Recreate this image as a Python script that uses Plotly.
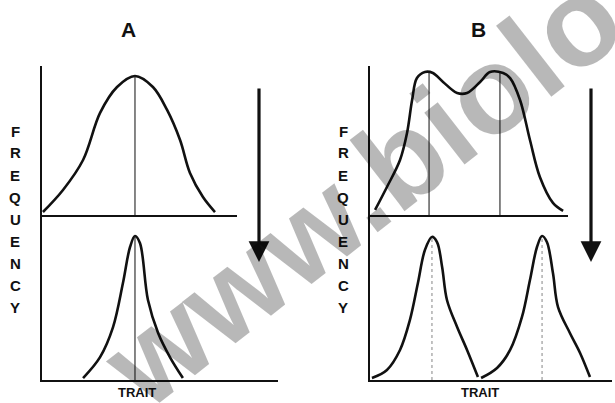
import plotly.graph_objects as go

W, H = 615, 403

# ---------------- data (trait units 0-100, frequency units 0-100) ----------------
# Panel A, before selection (top)
a_top_trait = [0.4, 8.9, 17.4, 24.6, 31.8, 39.4, 47.0, 53.0, 58.5, 62.7, 68.2, 73.3]
a_top_freq = [2.0, 16.8, 36.9, 68.5, 85.9, 93.3, 85.9, 70.5, 50.3, 28.2, 12.1, 2.0]
a_top_mean = [39.4]
a_top_mean_freq = [93.3]

# Panel A, after selection (bottom)
a_bot_trait = [17.4, 24.6, 30.1, 34.3, 37.3, 39.4, 41.5, 44.9, 49.2, 54.2, 59.7]
a_bot_freq = [1.2, 13.9, 32.1, 58.8, 80.6, 87.3, 83.0, 48.5, 28.5, 13.9, 1.2]
a_bot_mean = [39.4]
a_bot_mean_freq = [87.3]

# Panel B, before selection (top)
b_top_trait = [2.1, 7.0, 12.4, 15.3, 17.4, 19.4, 22.7, 26.0, 30.2, 36.0, 40.1, 45.5,
               49.6, 55.0, 57.9, 62.0, 66.1, 70.2, 75.6, 79.8]
b_top_freq = [3.4, 18.8, 36.9, 55.0, 77.2, 91.9, 96.0, 95.3, 89.3, 81.9, 81.9, 89.3,
              96.0, 95.3, 91.9, 77.2, 50.3, 25.5, 8.1, 2.7]
b_top_modes = [24.4, 53.7]
b_top_modes_freq = [95.5, 95.5]

# Panel B, after selection (bottom) - two peaks
b_bot1_trait = [0.8, 7.0, 12.4, 16.5, 19.8, 22.7, 25.6, 27.7, 29.8, 31.8, 36.0, 40.1, 44.6]
b_bot1_freq = [1.2, 6.1, 18.2, 36.4, 58.8, 78.8, 86.7, 83.6, 68.5, 48.5, 32.1, 18.2, 1.8]
b_bot2_trait = [45.9, 52.5, 57.9, 62.8, 66.1, 69.0, 71.1, 73.1, 75.6, 77.7, 82.6, 86.8, 90.9]
b_bot2_freq = [1.2, 7.3, 18.2, 38.2, 60.6, 80.6, 87.3, 83.6, 64.8, 44.2, 28.5, 16.4, 1.8]
b_bot_modes = [25.6, 71.1]
b_bot_modes_freq = [86.7, 87.3]

y_label_letters = list("FREQUENCY")
x_label = "TRAIT"
panel_titles = ["A", "B"]
watermark = "www.biolo"

# ---------------- figure ----------------
fig = go.Figure()

def px_x(p):
    return p / W

def px_y(p):
    return 1 - p / H

CURVE = dict(color="#111111", width=2.6, shape="spline", smoothing=1.0)
THIN = dict(color="#222222", width=1.1)
DOT = dict(color="#9a9a9a", width=1.2, dash="dot")

def curve(x, y, xa, ya):
    fig.add_trace(go.Scatter(x=x, y=y, mode="lines", line=CURVE, xaxis=xa, yaxis=ya,
                             hoverinfo="skip", showlegend=False))

def vlines(xs, tops, xa, ya, style):
    for xv, tv in zip(xs, tops):
        fig.add_trace(go.Scatter(x=[xv, xv], y=[0, tv], mode="lines", line=style,
                                 xaxis=xa, yaxis=ya, hoverinfo="skip", showlegend=False))

# A top (x2,y2), A bottom (x,y), B top (x4,y4), B bottom (x3,y3)
curve(a_top_trait, a_top_freq, "x2", "y2")
vlines(a_top_mean, a_top_mean_freq, "x2", "y2", THIN)
curve(a_bot_trait, a_bot_freq, "x", "y")
vlines(a_bot_mean, a_bot_mean_freq, "x", "y", THIN)
curve(b_top_trait, b_top_freq, "x4", "y4")
vlines(b_top_modes, b_top_modes_freq, "x4", "y4", THIN)
curve(b_bot1_trait, b_bot1_freq, "x3", "y3")
curve(b_bot2_trait, b_bot2_freq, "x3", "y3")
vlines(b_bot_modes, b_bot_modes_freq, "x3", "y3", DOT)

AX = dict(showline=True, linecolor="#111111", linewidth=2.4, showgrid=False,
          zeroline=False, showticklabels=False, ticks="", fixedrange=True)

top_dom = [px_y(215), px_y(66)]
bot_dom = [px_y(380), px_y(215)]
a_scale = 2.36  # px per trait unit, column A
b_scale = 2.42  # px per trait unit, column B

fig.update_layout(
    width=W, height=H,
    margin=dict(l=0, r=0, t=0, b=0),
    paper_bgcolor="white", plot_bgcolor="rgba(0,0,0,0)",
    xaxis=dict(**AX, domain=[px_x(42), px_x(278)], range=[0, 100], anchor="y"),
    yaxis=dict(**AX, domain=bot_dom, range=[0, 100], anchor="x"),
    xaxis2=dict(**AX, domain=[px_x(42), px_x(237)], range=[0, (237 - 42) / a_scale], anchor="y2"),
    yaxis2=dict(**AX, domain=top_dom, range=[0, 100], anchor="x2"),
    xaxis3=dict(**AX, domain=[px_x(370), px_x(612)], range=[0, 100], anchor="y3"),
    yaxis3=dict(**AX, domain=bot_dom, range=[0, 100], anchor="x3"),
    xaxis4=dict(**AX, domain=[px_x(370), px_x(568)], range=[0, (568 - 370) / b_scale], anchor="y4"),
    yaxis4=dict(**AX, domain=top_dom, range=[0, 100], anchor="x4"),
)

FONT = "Liberation Sans, Arial, sans-serif"
ann = []

def label(xp, yp, text, size, **kw):
    d = dict(x=px_x(xp), y=px_y(yp), xref="paper", yref="paper", text=text,
             showarrow=False, xanchor="center", yanchor="middle",
             font=dict(family=FONT, size=size, color="#111111"))
    d.update(kw)
    ann.append(d)

# axis arrowheads
for xa, ya in (("x2", "y2"), ("x4", "y4")):
    ann.append(dict(x=0, y=104, xref=xa, yref=ya, ax=0, ay=12, showarrow=True,
                    arrowhead=2, arrowsize=1.0, arrowwidth=2.2, arrowcolor="#111111", text=""))
for xa, ya in (("x", "y"), ("x3", "y3")):
    ann.append(dict(x=101.5, y=0, xref=xa, yref=ya, ax=-12, ay=0, showarrow=True,
                    arrowhead=2, arrowsize=1.0, arrowwidth=2.2, arrowcolor="#111111", text=""))

# big selection arrows
ann.append(dict(x=(259 - 42) / a_scale, y=px_y(262), xref="x", yref="paper", ax=0, ay=-175,
                showarrow=True, arrowhead=2, arrowsize=1.3, arrowwidth=3.2,
                arrowcolor="#111111", text=""))
ann.append(dict(x=(591 - 370) / b_scale, y=px_y(262), xref="x3", yref="paper", ax=0, ay=-175,
                showarrow=True, arrowhead=2, arrowsize=1.3, arrowwidth=3.2,
                arrowcolor="#111111", text=""))

# titles
for t, xp in zip(panel_titles, (128, 478)):
    label(xp, 29, "<b>%s</b>" % t, 21)

# FREQUENCY vertical letters
for xp in (15, 343):
    for i, ch in enumerate(y_label_letters):
        label(xp, 131 + 22 * i, "<b>%s</b>" % ch, 15)

# TRAIT labels
for xp in (137, 480):
    label(xp, 392, "<b>%s</b>" % x_label, 13)

# watermark (semi-transparent overlay: white turns grey, black stays black)
ann.append(dict(x=px_x(362), y=px_y(190), xref="paper", yref="paper",
                text="<b>%s</b>" % watermark, showarrow=False, textangle=-38,
                xanchor="center", yanchor="middle",
                font=dict(family=FONT, size=124, color="rgba(0,0,0,0.28)")))

fig.update_layout(annotations=ann)

fig.write_html("out.html", config={"displayModeBar": False},
               post_script="document.body.style.margin='0';document.body.style.padding='0';"
                           "document.documentElement.style.overflow='hidden';")
